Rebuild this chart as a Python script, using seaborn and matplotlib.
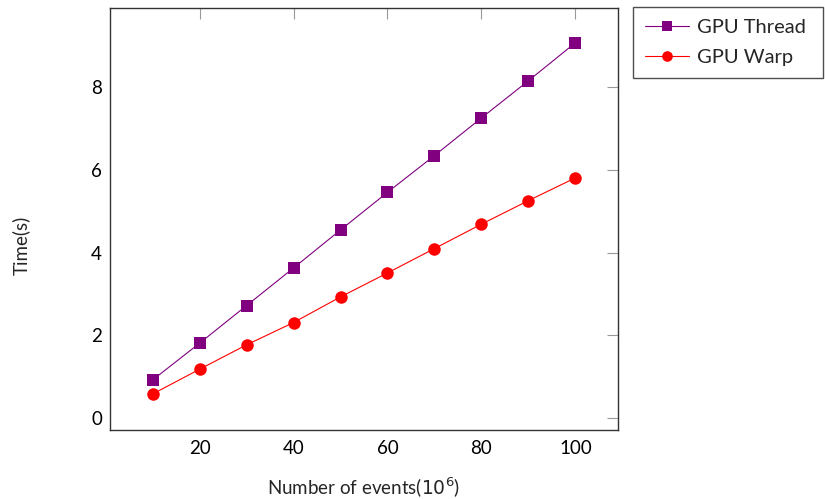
import numpy as np
import pandas as pd
import matplotlib
matplotlib.use("Agg")
import matplotlib.pyplot as plt
import seaborn as sns

sns.set_theme(style="white")
plt.rcParams['font.family'] = ['Lato', 'DejaVu Sans']

# data
events = [10, 20, 30, 40, 50, 60, 70, 80, 90, 100]
gpu_thread = [0.92, 1.81, 2.72, 3.63, 4.55, 5.46, 6.35, 7.26, 8.16, 9.08]
gpu_warp = [0.58, 1.18, 1.77, 2.31, 2.93, 3.51, 4.10, 4.69, 5.26, 5.81]
series_names = ["GPU Thread", "GPU Warp"]

df = pd.DataFrame({
    "events": events * 2,
    "time": gpu_thread + gpu_warp,
    "series": [series_names[0]] * len(events) + [series_names[1]] * len(events),
})

W, H = 825, 499
fig = plt.figure(figsize=(8.25, 4.99), dpi=100)
ax = fig.add_axes([110.3 / W, 1 - 430 / H, (617.7 - 110.3) / W, (430 - 8) / H])

palette = {"GPU Thread": "#800080", "GPU Warp": "#ff0000"}
markers = {"GPU Thread": "s", "GPU Warp": "o"}
sns.lineplot(data=df, x="events", y="time", hue="series", style="series",
             palette=palette, markers=markers, dashes=False,
             markersize=9, markeredgewidth=0, linewidth=0.8, ax=ax)

ax.set_xlim(1, 109)
ax.set_ylim(-0.29, 9.92)
ax.set_xticks([20, 40, 60, 80, 100])
ax.set_yticks([0, 2, 4, 6, 8])
ax.tick_params(direction="in", length=8, width=0.8, color="#999999",
               top=True, right=True, labelsize=13.5, labelcolor="black")
ax.tick_params(axis="x", pad=7)
ax.tick_params(axis="y", pad=6)
for s in ax.spines.values():
    s.set_color("#333333")
    s.set_linewidth(1.0)
    s.set_visible(True)

ax.set_xlabel("Number of events($10^6$)", fontsize=13.5)
ax.xaxis.set_label_coords(363.5 / W, 1 - 476 / H, transform=fig.transFigure)
ax.set_ylabel("Time(s)", fontsize=13.5)
ax.yaxis.set_label_coords(30 / W, 1 - 245 / H, transform=fig.transFigure)

leg = ax.legend(loc="upper left",
                bbox_to_anchor=(632.7 / W, 1 - 78.7 / H, (823 - 632.7) / W, 71.4 / H),
                bbox_transform=fig.transFigure, mode="expand",
                fontsize=14.5, frameon=True, fancybox=False,
                edgecolor="#222222", handlelength=2.2, markerscale=0.85,
                borderpad=0.6, labelspacing=0.6, handletextpad=0.4,
                borderaxespad=0)
leg.get_frame().set_linewidth(1.0)

fig.savefig("out.png", dpi=100)
